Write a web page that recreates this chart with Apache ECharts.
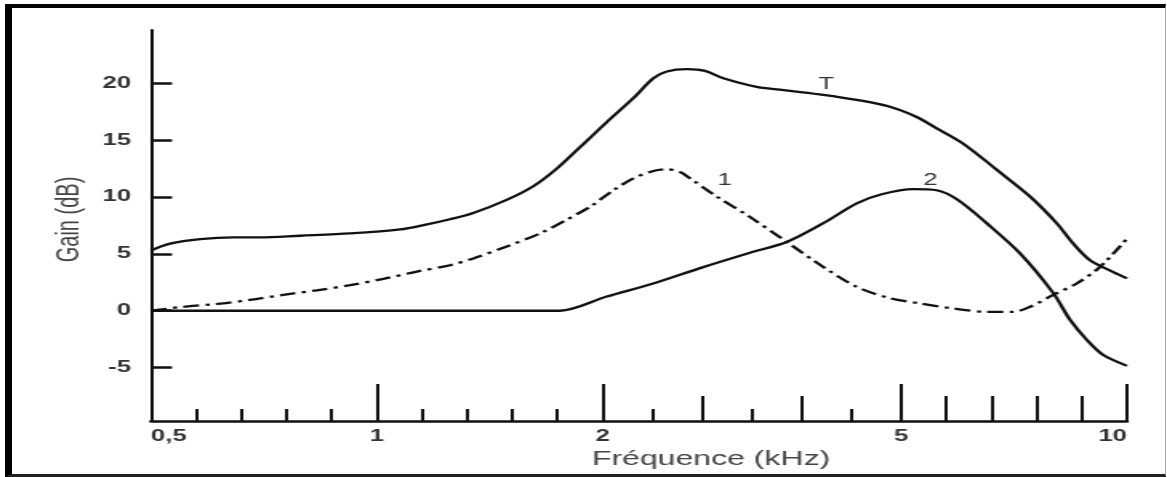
<!DOCTYPE html>
<html>
<head>
<meta charset="utf-8">
<title>Gain (dB) / Fréquence (kHz)</title>
<script src="https://cdn.jsdelivr.net/npm/echarts@6/dist/echarts.min.js"></script>
<style>
  html, body { margin: 0; padding: 0; background: #fff; }
  #stage { position: relative; width: 1167px; height: 477px; overflow: hidden; background: #fff; }
  /* the source figure is stretched sideways, so the chart is drawn narrow and widened */
  #chart { position: absolute; left: 0; top: 0; width: 729px; height: 477px; transform-origin: 0 0; }
  #frame {
    position: absolute; left: 5px; top: 4px; width: 1161px; height: 473px; box-sizing: border-box;
    border-left: 7px solid #000; border-top: 4px solid #000; border-bottom: 3px solid #222; border-right: 1px solid #aaa;
    pointer-events: none;
  }
</style>
</head>
<body>
<div id="stage">
  <div id="chart"></div>
  <div id="frame"></div>
</div>
<script>
// curve T (total)
const freqT = [0.5, 0.542, 0.609, 0.682, 0.741, 0.83, 0.941, 1.103, 1.222, 1.324, 1.427, 1.575, 1.693, 1.797, 1.9,
  2.041, 2.308, 2.509, 2.644, 2.845, 3.029, 3.213, 3.548, 3.883, 4.217, 4.553, 4.887, 5.343, 5.786, 6.375, 7.115,
  7.852, 8.443, 8.811, 9.181, 9.697, 10];
const gainT = [5.3, 5.9, 6.3, 6.45, 6.45, 6.6, 6.8, 7.15, 7.6, 8.05, 8.6, 9.75, 10.95, 12.5, 14.4,
  16.6, 18.7, 20.45, 21.05, 21.25, 21.1, 20.45, 19.7, 19.35, 19.0, 18.55, 17.95, 17.05, 16.05, 14.7, 12.4,
  10.05, 7.7, 5.9, 4.45, 3.4, 2.85];

// curve 1 (dash-dot)
const freq1 = [0.5, 0.572, 0.646, 0.719, 0.793, 0.867, 0.941, 1.029, 1.177, 1.324, 1.427, 1.575, 1.722, 1.84, 1.944,
  2.108, 2.308, 2.509, 2.644, 2.778, 2.878, 3.146, 3.481, 3.85, 4.217, 4.553, 4.887, 5.416, 6.154, 6.893, 7.482,
  7.852, 8.368, 8.886, 9.402, 10];
const gain1 = [0, 0.35, 0.6, 0.95, 1.4, 1.8, 2.25, 2.8, 3.45, 4.0, 4.6, 5.65, 6.8, 8.0, 9.15,
  10.6, 11.65, 12.3, 12.45, 12.2, 11.65, 10.05, 8.25, 6.05, 3.85, 2.1, 1.1, 0.65, 0.2, -0.1, -0.1,
  0.35, 1.4, 2.4, 3.85, 6.35];

// curve 2
const freq2 = [0.5, 1, 1.5, 1.811, 2.041, 2.509, 2.979, 3.481, 3.85, 4.217, 4.553, 4.804, 5.268, 5.786, 6.258,
  6.893, 7.631, 8.368, 8.738, 9.107, 9.475, 10];
const gain2 = [0, 0, 0, 0, 1.25, 2.4, 3.75, 5.1, 6.05, 7.7, 9.45, 10.25, 10.7, 10.6, 9.75,
  7.7, 5.05, 1.55, -0.8, -2.55, -3.9, -4.85];

// axis ticks
const freqLabels = [0.5, 1, 2, 5, 10];
const freqLongTicks = [1, 2, 5, 10];
const freqMidTicks = [3, 4, 6, 7, 8, 9];
const freqShortTicks = [0.6, 0.7, 0.8, 0.9, 1.2, 1.4, 1.6, 1.8, 2.5, 3.5, 4.5];
const gainTicks = [-5, 0, 5, 10, 15, 20];

const S = 1167 / 729;
document.getElementById('chart').style.transform = 'scaleX(' + S + ')';

// the printed axis is logarithmic between labelled ticks, linear in between
function warp(f) {
  for (let i = 0; i < freqLabels.length - 1; i++) {
    const a = freqLabels[i], b = freqLabels[i + 1];
    if (f <= b || i === freqLabels.length - 2) {
      return Math.log10(a) + (f - a) / (b - a) * (Math.log10(b) - Math.log10(a));
    }
  }
}
function unwarp(u) {
  for (let i = 0; i < freqLabels.length - 1; i++) {
    const a = freqLabels[i], b = freqLabels[i + 1];
    const la = Math.log10(a), lb = Math.log10(b);
    if (u <= lb + 1e-9 || i === freqLabels.length - 2) {
      return a + (u - la) / (lb - la) * (b - a);
    }
  }
}

function pairs(freq, gain, labelAt, label) {
  return freq.map(function (f, i) {
    const item = { value: [warp(f), gain[i]] };
    if (i === labelAt) item.label = label;
    return item;
  });
}

const dark = '#111';
const textFont = 'Liberation Sans, Arial, sans-serif';

function curveLabel(text, dx, dist) {
  return {
    show: true, formatter: text, position: 'top', distance: dist, offset: [dx / S, 0],
    color: '#333', fontSize: 16, fontFamily: textFont
  };
}

function tickAxis(values, len) {
  return {
    type: 'value', position: 'bottom', min: warp(0.5), max: warp(10),
    axisLine: { show: false, onZero: false },
    axisTick: { show: true, inside: true, length: len, customValues: values.map(warp), lineStyle: { color: dark, width: 2 } },
    axisLabel: { show: false },
    splitLine: { show: false }
  };
}

let myChart = echarts.init(document.getElementById('chart'));

myChart.setOption({
  animation: false,
  backgroundColor: '#fff',
  textStyle: { fontFamily: textFont },
  grid: { left: 151 / S, right: 40 / S, top: 30, bottom: 56, containLabel: false, outerBoundsMode: 'none' },
  xAxis: [
    {
      type: 'value', position: 'bottom', min: warp(0.5), max: warp(10),
      axisLine: { onZero: false, lineStyle: { color: dark, width: 2.5 } },
      axisTick: { inside: true, length: 37, customValues: freqLongTicks.map(warp), lineStyle: { color: dark, width: 2 } },
      axisLabel: {
        customValues: freqLabels.map(warp),
        formatter: function (v) { return String(Math.round(unwarp(v) * 100) / 100).replace('.', ','); },
        margin: 8, color: '#333', fontSize: 16, fontWeight: 'bold',
        alignMinLabel: 'left', alignMaxLabel: 'right'
      },
      splitLine: { show: false },
      name: 'Fréquence (kHz)', nameLocation: 'middle', nameGap: 25,
      nameTextStyle: { color: '#444', fontSize: 20, padding: [0, 0, 0, 90] }
    },
    tickAxis(freqMidTicks, 25),
    tickAxis(freqShortTicks, 12)
  ],
  yAxis: {
    type: 'value', min: -9.7, max: 24.7,
    axisLine: { onZero: false, lineStyle: { color: dark, width: 2 } },
    axisTick: { inside: true, length: 21 / S, customValues: gainTicks, lineStyle: { color: dark, width: 2.5 } },
    axisLabel: {
      customValues: gainTicks, margin: 20 / S, color: '#333', fontSize: 16, fontWeight: 'bold',
      padding: [0, 0, 6, 0]
    },
    splitLine: { show: false },
    name: 'Gain (dB)', nameLocation: 'middle', nameGap: 35,
    nameTextStyle: { color: '#444', fontSize: 20, padding: [0, 0, 0, 12] }
  },
  series: [
    {
      name: 'T', type: 'line', xAxisIndex: 0, smooth: 0.3, symbol: 'circle', symbolSize: 0,
      itemStyle: { color: dark, borderWidth: 0 },
      lineStyle: { color: dark, width: 2.3 },
      label: { show: false },
      data: pairs(freqT, gainT, 24, curveLabel('T', 3, 2))
    },
    {
      name: '1', type: 'line', xAxisIndex: 0, smooth: 0.3, symbol: 'circle', symbolSize: 0,
      itemStyle: { color: dark, borderWidth: 0 },
      lineStyle: { color: dark, width: 2.3, type: [10, 4, 2.5, 4] },
      label: { show: false },
      data: pairs(freq1, gain1, 21, curveLabel('1', 8, 8))
    },
    {
      name: '2', type: 'line', xAxisIndex: 0, smooth: 0.3, symbol: 'circle', symbolSize: 0,
      itemStyle: { color: dark, borderWidth: 0 },
      lineStyle: { color: dark, width: 2.3 },
      label: { show: false },
      data: pairs(freq2, gain2, 12, curveLabel('2', 17, 1))
    }
  ]
});
</script>
</body>
</html>
